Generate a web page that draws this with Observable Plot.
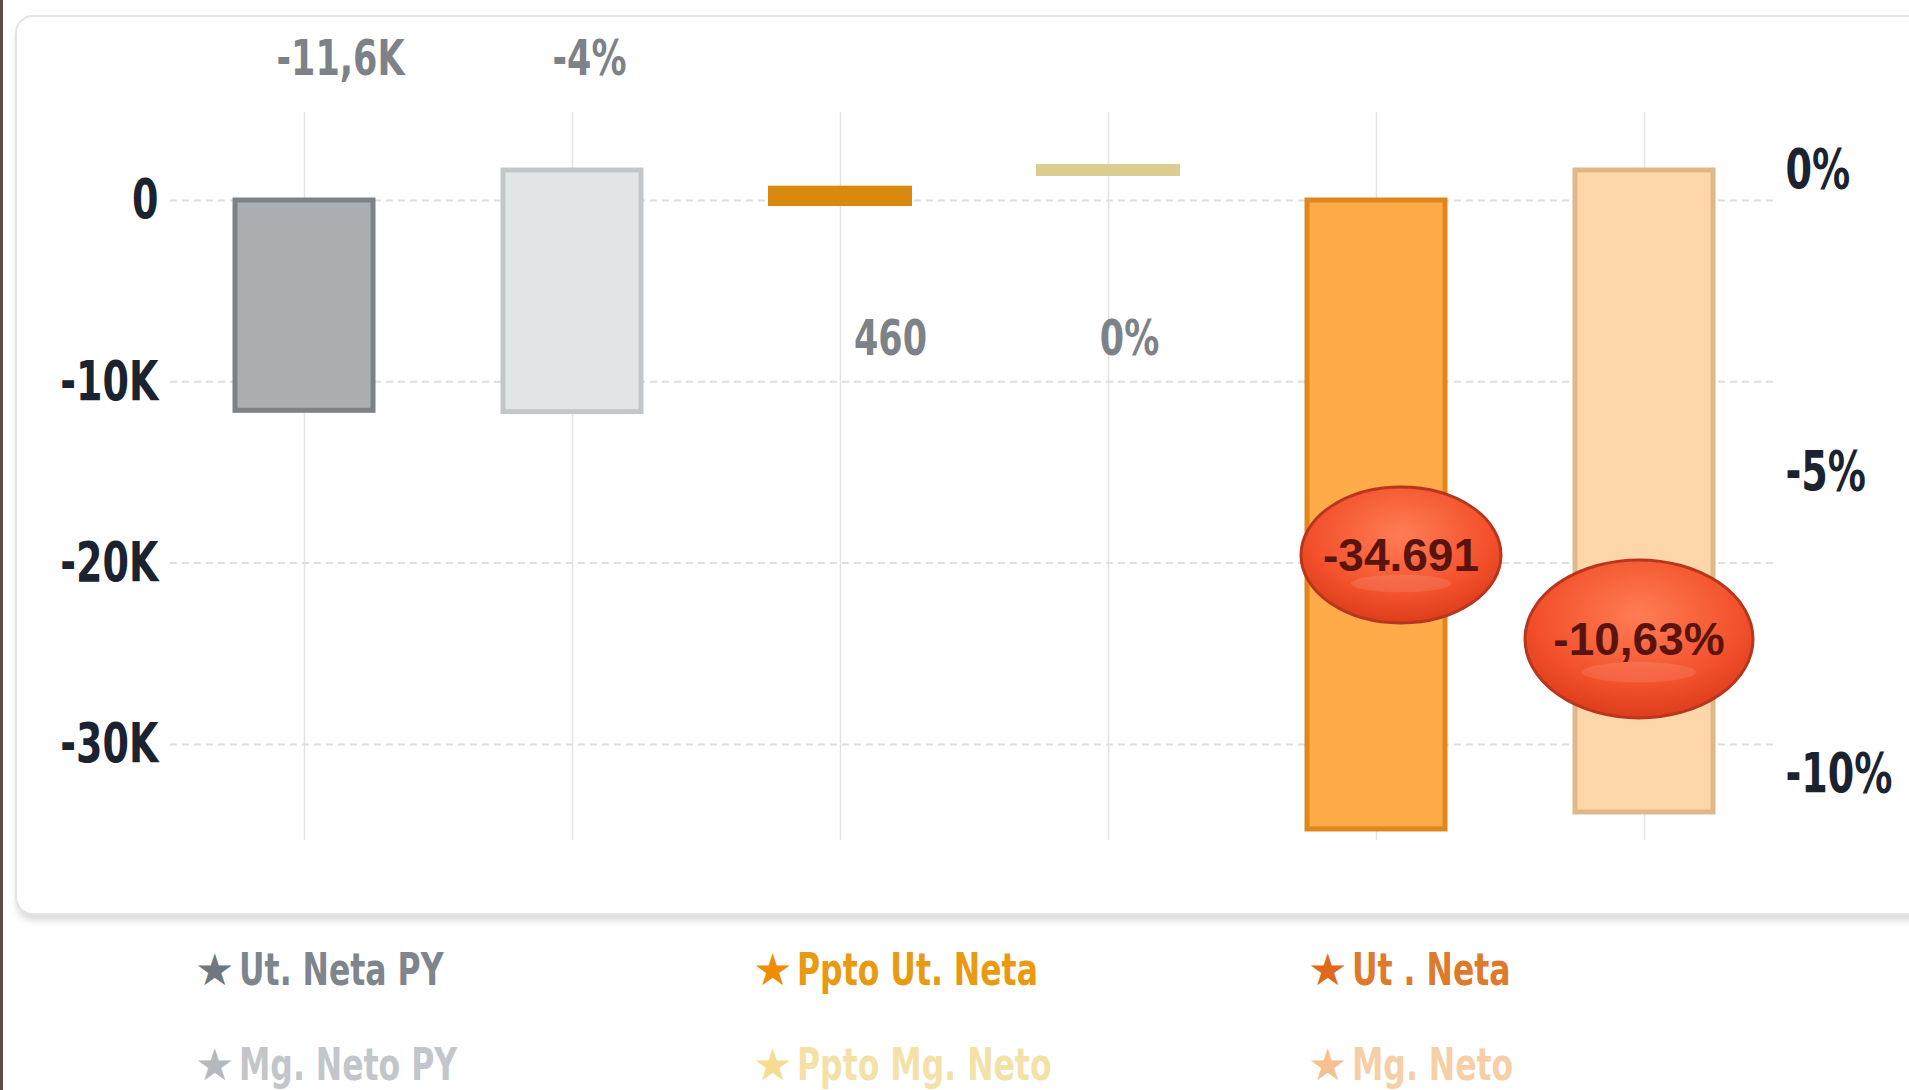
<!DOCTYPE html>
<html><head><meta charset="utf-8">
<script src="https://cdn.jsdelivr.net/npm/d3@7"></script>
<script src="https://cdn.jsdelivr.net/npm/@observablehq/plot@0.6"></script>
<style>
html,body{margin:0;padding:0;width:1909px;height:1090px;overflow:hidden;background:#fff;}
body{font-family:"DejaVu Sans",sans-serif;position:relative;}
#edge{position:absolute;left:0;top:0;width:3px;height:1090px;background:#5b4d47;}
#panel{position:absolute;left:15px;top:15px;width:1960px;height:896px;border:2px solid #e4e4e4;border-radius:18px;box-shadow:0 7px 6px -1px rgba(0,0,0,0.13);background:#fff;}
#chart{position:absolute;left:0;top:0;}
.lg{position:absolute;font-weight:bold;font-size:45px;line-height:50px;white-space:nowrap;}
.lg .st{display:inline-block;font-family:"DejaVu Sans",sans-serif;font-size:44px;margin-right:5px;vertical-align:top;}
.lg .tx{display:inline-block;transform:scaleX(0.70);transform-origin:left center;vertical-align:top;}
</style></head>
<body>
<div id="edge"></div>
<div id="panel"></div>
<div id="chart"></div>
<div id="legend"></div>
<script>
// ---- data ----
const categories = ["Ut. Neta PY", "Mg. Neto PY", "Ppto Ut. Neta", "Ppto Mg. Neto", "Ut. Neta", "Mg. Neto"];
const utCategories = ["Ut. Neta PY", "Ppto Ut. Neta", "Ut. Neta"];
const utValues = [-11600, 460, -34691];
const mgCategories = ["Mg. Neto PY", "Ppto Mg. Neto", "Mg. Neto"];
const mgValues = [-4, 0, -10.63];
const utLabels = ["-11,6K", "460", "-34.691"];
const mgLabels = ["-4%", "0%", "-10,63%"];
const leftTicks = [0, -10000, -20000, -30000];
const leftTickLabels = ["0", "-10K", "-20K", "-30K"];
const rightTicks = [0, -5, -10];
const rightTickLabels = ["0%", "-5%", "-10%"];
const legendRow1 = ["Ut. Neta PY", "Ppto Ut. Neta", "Ut . Neta"];
const legendRow2 = ["Mg. Neto PY", "Ppto Mg. Neto", "Mg. Neto"];

// ---- styles ----
const fills = {"Ut. Neta PY":"#abafb2","Mg. Neto PY":"#e2e6e7","Ppto Ut. Neta":"#d98a0c","Ppto Mg. Neto":"#d9cd92","Ut. Neta":"#ffab4a","Mg. Neto":"#fdd7a9"};
const strokes = {"Ut. Neta PY":"#7c8286","Mg. Neto PY":"#c3c7ca","Ppto Ut. Neta":"#d98a0c","Ppto Mg. Neto":"#d9cd92","Ut. Neta":"#e0861a","Mg. Neto":"#e0b887"};
const legendColors1 = [["#6f777f","#7e858c"],["#f08c00","#e79a12"],["#e0681a","#dd7a2c"]];
const legendColors2 = [["#b5b9bd","#c2c6ca"],["#f5dc90","#f4e1a8"],["#f6c092","#f7cfa6"]];

// secondary (percent) axis expressed in primary-axis units
const pctToUt = p => 1655 + 3331 * p;

const bars = [
  ...utCategories.map((c, i) => ({cat: c, y1: 0, y2: utValues[i], label: utLabels[i]})),
  ...mgCategories.map((c, i) => ({cat: c, y1: pctToUt(0), y2: pctToUt(mgValues[i]), label: mgLabels[i]}))
];
const big = bars.filter(d => Math.abs(d.y2 - d.y1) > 2000);
const small = bars.filter(d => Math.abs(d.y2 - d.y1) <= 2000);
const byCat = c => bars.filter(d => d.cat === c);

const labelStyle = {text: "label", frameAnchor: "top", lineAnchor: "middle", fontSize: 50, fontWeight: "bold", fill: "#7d8288"};

const chart = Plot.plot({
  width: 1909, height: 915,
  marginLeft: 170, marginRight: 131, marginTop: 112, marginBottom: 75,
  style: {background: "transparent", fontFamily: '"DejaVu Sans",sans-serif'},
  x: {domain: categories, paddingInner: 0.485, paddingOuter: 0.2425, axis: null},
  y: {domain: [-35300, 4854], axis: null},
  marks: [
    Plot.ruleX(categories, {x: d => d, stroke: "#e3e3e3", strokeWidth: 1.5}),
    Plot.ruleY(leftTicks, {y: d => d, stroke: "#dedede", strokeWidth: 2, strokeDasharray: "7,5"}),
    Plot.barY(big, {x: "cat", y1: "y1", y2: "y2", fill: d => fills[d.cat], stroke: d => strokes[d.cat], strokeWidth: 5}),
    Plot.barY(small, {x: "cat", y1: "y1", y2: "y2", insetTop: -3, insetBottom: -3, fill: d => fills[d.cat], stroke: d => strokes[d.cat], strokeWidth: 6}),
    Plot.axisY(leftTicks, {anchor: "left", tickSize: 0, tickPadding: 12, label: null,
      tickFormat: d => leftTickLabels[leftTicks.indexOf(d)], fontSize: 56, fontWeight: "bold", color: "#1b2330"}),
    Plot.axisY(rightTicks.map(pctToUt), {anchor: "right", tickSize: 0, tickPadding: 7, label: null,
      tickFormat: d => rightTickLabels[rightTicks.map(pctToUt).indexOf(d)], fontSize: 56, fontWeight: "bold", color: "#1b2330"}),
    Plot.text(byCat("Ut. Neta PY"), {x: "cat", dy: -54, dx: 36, ...labelStyle}),
    Plot.text(byCat("Mg. Neto PY"), {x: "cat", dy: -54, dx: 17, ...labelStyle}),
    Plot.text(byCat("Ppto Ut. Neta"), {x: "cat", dy: 226, dx: 50, ...labelStyle}),
    Plot.text(byCat("Ppto Mg. Neto"), {x: "cat", dy: 226, dx: 21, ...labelStyle})
  ]
});
document.getElementById("chart").appendChild(chart);

// condensed look of the original typeface
d3.select(chart).selectAll("text").each(function() {
  const w = this.getComputedTextLength();
  const isAxis = /axis/.test(this.parentNode.getAttribute("aria-label") || "");
  const k = isAxis ? 0.68 : 0.70;
  if (w > 0) {
    this.setAttribute("textLength", (w * k).toFixed(1));
    this.setAttribute("lengthAdjust", "spacingAndGlyphs");
    // right-hand axis: keep the same left edge but anchor the (condensed) text at its end
    if (isAxis && getComputedStyle(this).textAnchor === "start") {
      const x0 = +(this.getAttribute("x") || 0);
      this.setAttribute("x", (x0 + w * k).toFixed(1));
      this.setAttribute("text-anchor", "end");
    }
  }
});

// bubbles for the current-period values, placed with the plot's own scales
const svg = d3.select(chart);
const xs = chart.scale("x"), ys = chart.scale("y");
const defs = svg.append("defs");
const grad = defs.append("radialGradient").attr("id", "bub").attr("cx", "50%").attr("cy", "35%").attr("r", "65%");
grad.append("stop").attr("offset", "0%").attr("stop-color", "#ff7d55");
grad.append("stop").attr("offset", "70%").attr("stop-color", "#f2502a");
grad.append("stop").attr("offset", "100%").attr("stop-color", "#dc3d1c");
const bubbleStyle = {"Ut. Neta": {dx: 25, dy: -274, rx: 100, ry: 68}, "Mg. Neto": {dx: -5, dy: -173, rx: 114, ry: 79}};
const g = svg.append("g");
bars.filter(d => bubbleStyle[d.cat]).forEach(d => {
  const s = bubbleStyle[d.cat];
  const cx = xs.apply(d.cat) + xs.bandwidth / 2 + s.dx;
  const cy = ys.apply(d.y2) + s.dy;
  g.append("ellipse").attr("cx", cx).attr("cy", cy).attr("rx", s.rx).attr("ry", s.ry)
    .attr("fill", "url(#bub)").attr("stroke", "#b9361c").attr("stroke-width", 3);
  g.append("ellipse").attr("cx", cx).attr("cy", cy + s.ry * 0.42).attr("rx", s.rx * 0.5).attr("ry", s.ry * 0.13)
    .attr("fill", "#ffffff").attr("opacity", 0.1);
  g.append("text").attr("x", cx).attr("y", cy).attr("text-anchor", "middle").attr("dominant-baseline", "central")
    .attr("font-family", '"Liberation Sans","DejaVu Sans",sans-serif').attr("font-size", 46).attr("font-weight", "bold")
    .attr("fill", "#5a1410").text(d.label);
});

// legend
const legend = document.getElementById("legend");
const colX = [195, 753, 1308];
[[legendRow1, legendColors1, 945], [legendRow2, legendColors2, 1040]].forEach(([row, cols, top]) => {
  row.forEach((name, i) => {
    const div = document.createElement("div");
    div.className = "lg";
    div.style.left = colX[i] + "px";
    div.style.top = top + "px";
    div.innerHTML = `<span class="st" style="color:${cols[i][0]}">★</span><span class="tx" style="color:${cols[i][1]}">${name}</span>`;
    legend.appendChild(div);
  });
});
</script>
</body></html>
